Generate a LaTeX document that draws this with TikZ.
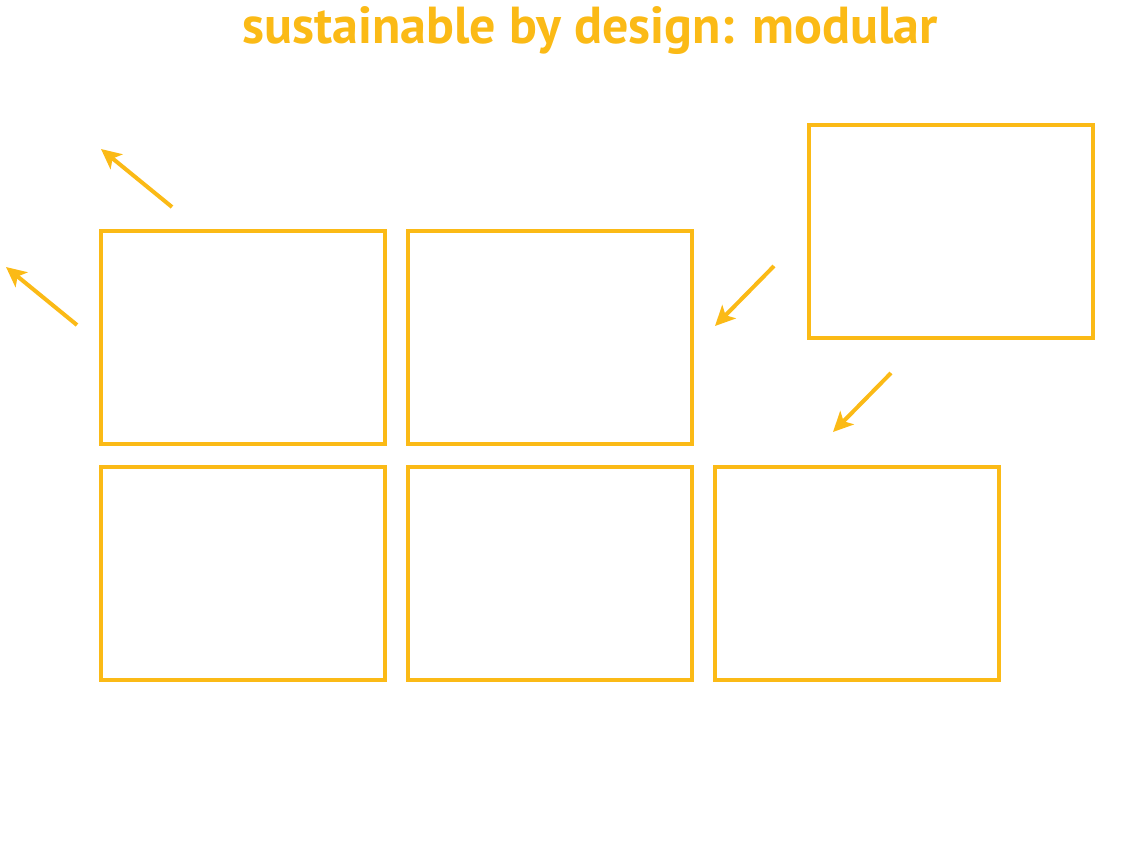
\documentclass[tikz,border=0pt]{standalone}
\usepackage{fontspec}
\setmainfont{PT Sans}
\usepackage{tikz}
\usetikzlibrary{arrows.meta}
\definecolor{modyellow}{HTML}{FBBA16}

\begin{document}
\begin{tikzpicture}[x=1pt,y=-1pt]
      \useasboundingbox (0,0) rectangle (1125,852);
      \tikzstyle{module}=[draw=modyellow,line width=4pt,rectangle,
			      minimum width=284pt,minimum height=213pt,inner sep=0pt]
      \tikzstyle{swap}=[draw=modyellow,line width=4pt,
			      -{Stealth[length=20pt,width=19pt,inset=5pt]}]
      \node (title) at (590,43) [anchor=base,text=modyellow,font=\bfseries\fontsize{52}{56}\selectfont]
	  {sustainable by design: modular};
      % top row
      \node (module1) at (243,337.5) [module] {};
      \node (module2) at (550,337.5) [module] {};
      \node (spare) at (951,231) [module] {};
      % bottom row
      \node (module3) at (243,573.5) [module] {};
      \node (module4) at (550,573.5) [module] {};
      \node (module5) at (857,573.5) [module] {};
      % arrows
      \coordinate (out1s) at (172,207);  \coordinate (out1e) at (101,149);
      \coordinate (out2s) at (77,325);   \coordinate (out2e) at (6,267);
      \coordinate (in1s) at (774,266);   \coordinate (in1e) at (715,326);
      \coordinate (in2s) at (891,373);   \coordinate (in2e) at (833,432);
      \draw[swap] (out1s) -- (out1e);
      \draw[swap] (out2s) -- (out2e);
      \draw[swap] (in1s) -- (in1e);
      \draw[swap] (in2s) -- (in2e);
  \end{tikzpicture}
\end{document}
